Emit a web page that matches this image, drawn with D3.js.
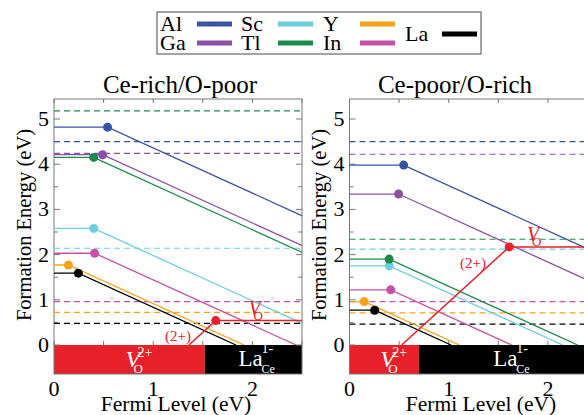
<!DOCTYPE html>
<html><head><meta charset="utf-8">
<script src="https://cdn.jsdelivr.net/npm/d3@7"></script>
<style>
body{margin:0;background:#fff}
text{font-family:"Liberation Serif",serif}
</style>
</head><body><svg id="c" width="584" height="415" font-family="Liberation Serif"></svg>
<script>
// ---------- data ----------
const dopants = ["Al","Ga","Sc","Tl","Y","In","La"];
const panelTitles = ["Ce-rich/O-poor","Ce-poor/O-rich"];
// Fermi level (eV) of the charge-transition point (filled circle) per dopant
const richTransition = [0.54, 0.49, 0.40, 0.40, 0.145, 0.41, 0.245];
const poorTransition = [0.546, 0.495, 0.40, 0.40, 0.148, 0.415, 0.254];
// formation energy (eV) of the flat (neutral) part per dopant
const richEnergy = [4.82, 4.21, 2.58, 4.15, 1.77, 2.03, 1.59];
const poorEnergy = [3.98, 3.34, 1.75, 1.90, 0.96, 1.22, 0.77];
// dashed reference levels (eV) per dopant
const richDashed = [4.50, 4.24, 2.14, 5.18, 0.72, 0.96, 0.48];
const poorDashed = [4.50, 4.22, 2.12, 2.34, 0.71, 0.96, 0.46];
// oxygen vacancy: transition Fermi level and energy, per panel
const vacancyFermi = [1.63, 1.61];
const vacancyEnergy = [0.54, 2.17];
// boundary between V_O^2+ and La_Ce^1- dominated regions, per panel
const regionBoundary = [1.52, 0.70];
const xTickLabels = [0, 1, 2];
const yTickLabels = [0, 1, 2, 3, 4, 5];

// ---------- styles ----------
const colors = ["#3853a4","#8c4fa6","#6ccde0","#1b8a4c","#f7a21b","#c452a8","#000000"];
const red = "#e8202a";

const transitions = [richTransition, poorTransition];
const energies = [richEnergy, poorEnergy];
const dashed = [richDashed, poorDashed];

const svg = d3.select("#c");
const panelLeft = [54, 349.5];
const panelW = 248;
const yTopPx = 99, yBotPx = 374;
const y = d3.scaleLinear().domain([0, 5]).range([345, 119]);
const xMax = 2.5;
const titleX = [180, 455];
const xLabelX = [176, 481];
const yLabelX = [31, 326];
const vLabel = [{vx: 1.96, tx: 1.25, ty: 0.09}, {vx: 1.79, tx: 1.245, ty: 1.70}];

panelTitles.forEach((title, p) => {
  const x0 = panelLeft[p];
  const x = d3.scaleLinear().domain([0, xMax]).range([x0, x0 + panelW]);
  const g = svg.append("g");
  const clipId = "clip" + p;
  svg.append("clipPath").attr("id", clipId).append("rect")
    .attr("x", x0).attr("y", yTopPx).attr("width", panelW).attr("height", y(0) - yTopPx);

  // title
  g.append("text").attr("x", titleX[p]).attr("y", 93).attr("text-anchor", "middle")
    .attr("font-size", 25).text(title);

  // region bar
  g.append("rect").attr("x", x(0)).attr("y", y(0)).attr("width", x(regionBoundary[p]) - x(0))
    .attr("height", yBotPx - y(0)).attr("fill", red);
  g.append("rect").attr("x", x(regionBoundary[p])).attr("y", y(0))
    .attr("width", x(xMax) - x(regionBoundary[p])).attr("height", yBotPx - y(0)).attr("fill", "#000");

  // frame
  g.append("rect").attr("x", x0).attr("y", yTopPx).attr("width", panelW).attr("height", yBotPx - yTopPx)
    .attr("fill", "none").attr("stroke", "#777").attr("stroke-width", 1);

  // ticks
  d3.range(0, xMax + 0.01, 0.5).forEach(v => {
    g.append("line").attr("x1", x(v)).attr("x2", x(v)).attr("y1", yTopPx).attr("y2", yTopPx + 4)
      .attr("stroke", "#777");
    g.append("line").attr("x1", x(v)).attr("x2", x(v)).attr("y1", y(0)).attr("y2", y(0) - 4)
      .attr("stroke", "#777");
  });
  d3.range(0, 5.01, 0.5).forEach(v => {
    const len = Number.isInteger(v) ? 6 : 4;
    g.append("line").attr("x1", x0).attr("x2", x0 + len).attr("y1", y(v)).attr("y2", y(v)).attr("stroke", "#777");
    g.append("line").attr("x1", x0 + panelW).attr("x2", x0 + panelW - len).attr("y1", y(v)).attr("y2", y(v)).attr("stroke", "#777");
  });

  // tick labels
  yTickLabels.forEach(v => {
    g.append("text").attr("x", x0 - 5).attr("y", y(v) + 7).attr("text-anchor", "end")
      .attr("font-size", 22).text(v);
  });
  xTickLabels.forEach(v => {
    g.append("text").attr("x", x(v)).attr("y", 396).attr("text-anchor", "middle")
      .attr("font-size", 22).text(v);
  });

  // axis labels
  g.append("text").attr("x", xLabelX[p]).attr("y", 411).attr("text-anchor", "middle")
    .attr("font-size", 21.5).text("Fermi Level (eV)");
  g.append("text").attr("transform", `translate(${yLabelX[p]},225) rotate(-90)`)
    .attr("text-anchor", "middle").attr("font-size", 20.5).text("Formation Energy (eV)");

  const plot = g.append("g").attr("clip-path", `url(#${clipId})`);
  const line = d3.line().x(d => x(d[0])).y(d => y(d[1]));

  // dashed levels
  dopants.forEach((d, i) => {
    plot.append("line").attr("x1", x(0)).attr("x2", x(xMax))
      .attr("y1", y(dashed[p][i])).attr("y2", y(dashed[p][i]))
      .attr("stroke", colors[i]).attr("stroke-width", 1.2).attr("stroke-dasharray", "6,4");
  });

  // dopant formation energy lines
  dopants.forEach((d, i) => {
    const t = transitions[p][i], e = energies[p][i];
    plot.append("path").attr("d", line([[0, e], [t, e], [t + e, 0]]))
      .attr("fill", "none").attr("stroke", colors[i]).attr("stroke-width", 1.3);
  });

  // oxygen vacancy
  const vf = vacancyFermi[p], ve = vacancyEnergy[p];
  plot.append("path").attr("d", line([[vf - ve / 2, 0], [vf, ve], [xMax, ve]]))
    .attr("fill", "none").attr("stroke", red).attr("stroke-width", 1.5);

  // circles
  dopants.forEach((d, i) => {
    g.append("circle").attr("cx", x(transitions[p][i])).attr("cy", y(energies[p][i]))
      .attr("r", 4.5).attr("fill", colors[i]);
  });
  g.append("circle").attr("cx", x(vf)).attr("cy", y(ve)).attr("r", 4.5).attr("fill", red);

  // vacancy labels
  const vl = vLabel[p];
  g.append("text").attr("x", x(vl.vx)).attr("y", y(ve) - 6).attr("font-size", 20)
    .attr("font-style", "italic").attr("fill", red).text("V");
  g.append("text").attr("x", x(vl.vx) + 5).attr("y", y(ve) - 1).attr("font-size", 13)
    .attr("fill", red).text("O");
  g.append("text").attr("x", x(vl.tx)).attr("y", y(vl.ty)).attr("text-anchor", "middle")
    .attr("font-size", 15).attr("fill", red).text("(2+)");

  // region labels
  const cRed = (x(0) + x(regionBoundary[p])) / 2;
  const cBlk = (x(regionBoundary[p]) + x(xMax)) / 2;
  g.append("text").attr("x", cRed - 4).attr("y", 367).attr("font-size", 24)
    .attr("font-style", "italic").attr("fill", "#fff").text("V");
  g.append("text").attr("x", cRed + 8).attr("y", 357).attr("font-size", 14)
    .attr("fill", "#fff").text("2+");
  g.append("text").attr("x", cRed + 4).attr("y", 373).attr("font-size", 13)
    .attr("fill", "#fff").text("O");
  g.append("text").attr("x", cBlk - 15).attr("y", 366).attr("font-size", 23)
    .attr("fill", "#fff").text("La");
  g.append("text").attr("x", cBlk + 8).attr("y", 353).attr("font-size", 14)
    .attr("fill", "#fff").text("1-");
  g.append("text").attr("x", cBlk + 8).attr("y", 373).attr("font-size", 12)
    .attr("fill", "#fff").text("Ce");
});

// ---------- legend ----------
const lg = svg.append("g");
lg.append("rect").attr("x", 157).attr("y", 12).attr("width", 324).attr("height", 42)
  .attr("fill", "#fff").attr("stroke", "#666").attr("stroke-width", 1.2);
const colX = [160, 241, 323, 405];
dopants.forEach((d, i) => {
  const col = Math.floor(i / 2);
  const last = i === dopants.length - 1;
  const row = i % 2;
  const cy = last ? 34 : (row === 0 ? 24 : 43);
  lg.append("text").attr("x", colX[col]).attr("y", cy + 7).attr("font-size", 22).text(d);
  lg.append("line").attr("x1", colX[col] + 37).attr("x2", colX[col] + 72)
    .attr("y1", cy).attr("y2", cy).attr("stroke", colors[i]).attr("stroke-width", 5);
});
</script>
</body></html>
